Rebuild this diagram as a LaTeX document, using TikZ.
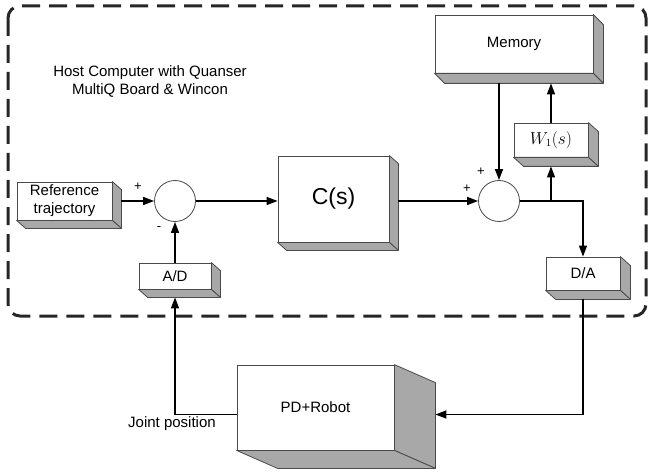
\documentclass[tikz,border=0pt]{standalone}
\usepackage[no-math]{fontspec}
\setmainfont{Liberation Sans}
\usetikzlibrary{arrows.meta,calc}
\definecolor{sidegray}{HTML}{A8A8A8}
\definecolor{edgegray}{HTML}{4A4A4A}
\tikzset{
  box/.style={rectangle, draw=edgegray, fill=white, line width=0.8pt, inner sep=0pt,
              font=\fontsize{15}{18}\selectfont, align=center},
  sumNode/.style={circle, draw=edgegray, fill=white, line width=0.8pt, minimum size=41pt, inner sep=0pt},
  sideFace/.style={fill=sidegray, draw=edgegray, line width=0.8pt, line join=round},
  solidArrow/.style={-{Triangle[length=11pt,width=8pt]}, line width=1.4pt},
  plainLine/.style={line width=1.4pt},
  signLabel/.style={font=\fontsize{13}{13}\selectfont},
  hostFrame/.style={draw=black!85, line width=3pt, dash pattern=on 18pt off 9pt, rounded corners=12pt}
}
% depth faces of a box: name, dx, dy
\newcommand{\boxdepth}[3]{%
  \draw[sideFace] (#1.north east) -- ++(#2,#3) -- ($(#1.south east)+(#2,#3)$) -- (#1.south east) -- cycle;
  \draw[sideFace] (#1.south west) -- ++(#2,#3) -- ($(#1.south east)+(#2,#3)$) -- (#1.south east) -- cycle;
  \coordinate (#1b) at ($(#1.south)+(0,#3)$);
  \coordinate (#1r) at ($(#1.east)+(#2,#3)$);
}

\begin{document}
\begin{tikzpicture}[x=1pt, y=-1pt, >=Latex]
\useasboundingbox (0,0) rectangle (650,473);

% Host frame
\draw[hostFrame] (8,6) rectangle (646,316);
\node[font=\fontsize{15}{18}\selectfont, align=center] (host) at (150,81)
  {Host Computer with Quanser\\MultiQ Board \& Wincon};

% Left part
\node[box, minimum width=95pt, minimum height=38pt] (ref) at (64.5,201) {Reference\\trajectory};
\boxdepth{ref}{9}{8}
\node[sumNode] (sumA) at (175,201) {};
\node[box, minimum width=72pt, minimum height=26pt] (AD) at (175,276) {A/D};
\boxdepth{AD}{9}{8}

% Controller
\node[box, minimum width=111pt, minimum height=86pt, font=\fontsize{23}{26}\selectfont] (Cs) at (333.5,199) {C(s)};
\boxdepth{Cs}{9}{8}

% Right part
\node[sumNode] (sumB) at (499,201) {};
\node[box, minimum width=158pt, minimum height=58pt] (mem) at (514,44) {Memory};
\boxdepth{mem}{10}{10}
\node[box, minimum width=74pt, minimum height=34pt, font=\fontsize{16}{18}\selectfont] (W1) at (551,140) {$W_1(s)$};
\boxdepth{W1}{10}{9}
\node[box, minimum width=74pt, minimum height=33pt] (DA) at (583,273.5) {D/A};
\boxdepth{DA}{10}{9}

% Plant
\node[box, minimum width=157pt, minimum height=85pt] (PD) at (315.5,407.5) {PD+Robot};
\boxdepth{PD}{41}{18}
\coordinate (PDin) at ($(PD.east)+(41,7)$);

% Signs
\node[signLabel] (plusA) at (138,187) {+};
\node[signLabel] (minusA) at (159,229) {-};
\node[signLabel] (plusB) at (467,189) {+};
\node[signLabel] (plusC) at (481,172) {+};
\node[font=\fontsize{15}{18}\selectfont] (joint) at (172,424) {Joint position};

% Forward path
\draw[solidArrow] (refr |- sumA) -- (sumA.west);
\draw[solidArrow] (sumA.east) -- (Cs.west |- sumA);
\draw[solidArrow] (Csr |- sumB) -- (sumB.west);
\coordinate (junc) at (W1 |- sumB);
\draw[plainLine] (sumB.east) -- (junc);
\draw[solidArrow] (junc) -- (W1b);
\draw[solidArrow] (junc) -| (DA.north);

% Memory loop
\draw[solidArrow] (W1.north) -- (W1 |- memb);
\draw[solidArrow] (sumB |- memb) -- (sumB.north);

% Plant loop
\draw[solidArrow] (DAb) |- (PDin);
\draw[solidArrow] (PD.west |- PDin) -| (ADb);
\draw[solidArrow] (AD.north) -- (sumA.south);

\end{tikzpicture}
\end{document}
